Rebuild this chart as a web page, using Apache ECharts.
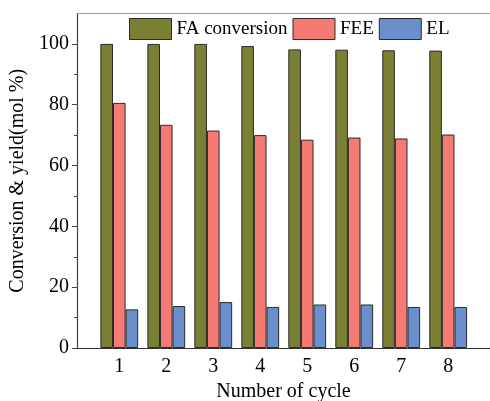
<!DOCTYPE html>
<html>
<head>
<meta charset="utf-8">
<script src="https://cdn.jsdelivr.net/npm/echarts@6/dist/echarts.min.js"></script>
<style>
  html, body { margin: 0; padding: 0; background: #fff; }
  #chart { width: 490px; height: 401px; }
</style>
</head>
<body>
<div id="chart"></div>
<script>
// Catalyst recycling runs: conversion and product yields per cycle (mol %)
const cycles = [1, 2, 3, 4, 5, 6, 7, 8];
const faConversion = [100, 100, 100, 99.3, 98.2, 98.1, 97.9, 97.8];
const feeYield = [80.6, 73.4, 71.5, 70.0, 68.5, 69.2, 68.9, 70.2];
const elYield = [12.7, 13.8, 15.1, 13.5, 14.3, 14.3, 13.5, 13.5];
const yTicks = [0, 20, 40, 60, 80, 100];

const font = '"Liberation Serif", "Times New Roman", serif';
const pair = (vals) => cycles.map((c, i) => [c, vals[i]]);

const chart = echarts.init(document.getElementById('chart'), null, { renderer: 'canvas' });

const barBase = {
  type: 'bar',
  barWidth: 12.6,
  barGap: '0%',
  itemStyle: { borderColor: '#2b2b2b', borderWidth: 1 }
};

chart.setOption({
  animation: false,
  textStyle: { fontFamily: font },
  legend: {
    top: 18,
    left: 129,
    padding: 0,
    itemWidth: 42,
    itemHeight: 21,
    itemGap: 5,
    icon: 'rect',
    textStyle: { fontFamily: font, fontSize: 19, color: '#000' },
    itemStyle: { borderColor: '#2b2b2b', borderWidth: 1 },
    data: ['FA conversion', 'FEE', 'EL']
  },
  grid: { left: 77, right: 0, top: 13.5, bottom: 53, containLabel: false, outerBoundsMode: 'none' },
  xAxis: [{
    type: 'value',
    min: 0.1,
    max: 8.89,
    name: 'Number of cycle',
    nameLocation: 'middle',
    nameGap: 34,
    nameTextStyle: { fontFamily: font, fontSize: 20, color: '#000' },
    splitLine: { show: false },
    axisLine: { lineStyle: { color: '#333', width: 1.2 } },
    axisTick: { show: false },
    axisLabel: {
      customValues: cycles,
      formatter: (v) => String(v),
      fontFamily: font, fontSize: 20, color: '#000', margin: 9
    }
  }, {
    type: 'value',
    position: 'top',
    min: 0.1,
    max: 8.89,
    axisLine: { show: true, onZero: false, lineStyle: { color: '#999', width: 1 } },
    axisTick: { show: false },
    axisLabel: { show: false },
    splitLine: { show: false }
  }],
  yAxis: {
    type: 'value',
    min: 0,
    max: 110,
    interval: 20,
    name: 'Conversion & yield(mol %)',
    nameLocation: 'middle',
    nameGap: 44,
    nameTextStyle: { fontFamily: font, fontSize: 20, color: '#000' },
    splitLine: { show: false },
    axisLine: { show: true, lineStyle: { color: '#444', width: 1.2 } },
    axisTick: { show: true, inside: false, length: 5, lineStyle: { color: '#444' }, customValues: yTicks },
    minorTick: { show: true, splitNumber: 2, length: 3, lineStyle: { color: '#444' } },
    axisLabel: {
      customValues: yTicks,
      fontFamily: font, fontSize: 20, color: '#000', margin: 8
    }
  },
  series: [
    Object.assign({}, barBase, { name: 'FA conversion', data: pair(faConversion), itemStyle: Object.assign({}, barBase.itemStyle, { color: '#7b7f33' }) }),
    Object.assign({}, barBase, { name: 'FEE', data: pair(feeYield), itemStyle: Object.assign({}, barBase.itemStyle, { color: '#f57a74' }) }),
    Object.assign({}, barBase, { name: 'EL', data: pair(elYield), itemStyle: Object.assign({}, barBase.itemStyle, { color: '#6a8fca' }) })
  ]
});
</script>
</body>
</html>
